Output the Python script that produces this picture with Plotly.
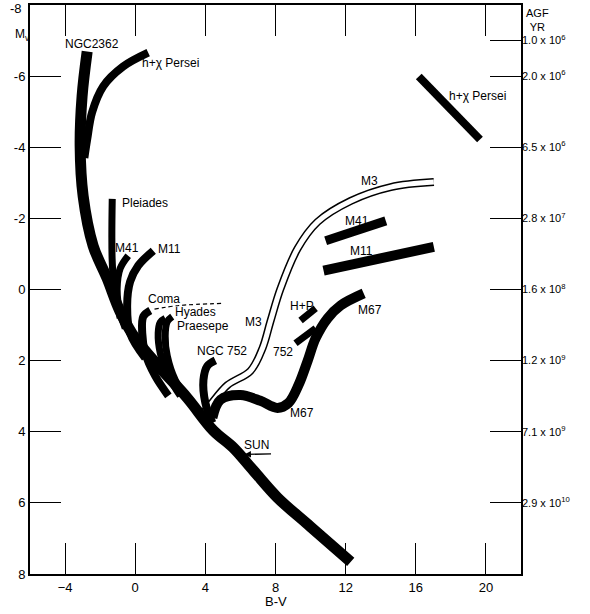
import plotly.graph_objects as go

# cluster sequences: B-V (x) and Mv (y)
ngc2362_bv = [-2.74, -3.03, -3.14, -2.97, -2.4, -1.6, -0.86, 0.0, 1.43, 2.97, 4.46, 5.6, 6.74, 8.11, 9.83, 11.31, 12.29]
ngc2362_mv = [-6.69, -5.43, -4.03, -2.63, -1.23, -0.31, 0.62, 1.37, 2.21, 3.05, 3.97, 4.45, 5.09, 5.85, 6.6, 7.24, 7.66]

hchi_bv = [0.74, -0.69, -1.83, -2.46, -2.74, -2.9]
hchi_mv = [-6.66, -6.27, -5.71, -4.98, -4.22, -3.7]

pleiades_bv = [-1.31, -1.31, -1.14, -0.57]
pleiades_mv = [-2.55, -0.78, 0.17, 1.09]

m41_bv = [-0.4, -0.86, -1.03, -0.86]
m41_mv = [-0.95, -0.59, -0.03, 0.81]

m11_bv = [1.03, 0.17, -0.29, -0.46, -0.29, 0.57]
m11_mv = [-1.09, -0.67, -0.22, 0.45, 1.23, 1.93]

coma_bv = [0.86, 0.46, 0.4, 0.57, 1.14, 1.89]
coma_mv = [0.59, 0.76, 1.23, 1.79, 2.43, 2.99]

hyades_bv = [1.71, 1.43, 1.31, 1.43, 1.89, 2.57]
hyades_mv = [0.81, 0.92, 1.23, 1.79, 2.43, 2.99]

praesepe_bv = [2.11, 1.83, 1.71, 1.83, 2.29, 3.03]
praesepe_mv = [0.76, 0.9, 1.31, 1.87, 2.55, 3.1]

ngc752_bv = [4.57, 4.11, 3.89, 4.0, 4.4]
ngc752_mv = [1.99, 2.15, 2.55, 3.19, 3.75]

m3_bv = [3.89, 4.29, 5.26, 6.57, 7.26, 7.71, 8.29, 9.26, 10.4, 12.29, 14.57, 17.03]
m3_mv = [3.47, 3.24, 2.69, 2.29, 1.65, 0.9, -0.03, -1.15, -1.9, -2.49, -2.88, -3.02]

m67_bv = [4.4, 4.86, 6.0, 7.14, 8.11, 8.74, 9.31, 9.83, 10.29, 10.97, 11.71, 13.03]
m67_mv = [3.61, 3.1, 2.97, 3.13, 3.33, 3.19, 2.69, 2.01, 1.37, 0.81, 0.45, 0.11]

hp_giants_bv = [9.43, 10.29]
hp_giants_mv = [0.87, 0.53]
ngc752_giants_bv = [9.14, 10.29]
ngc752_giants_mv = [1.51, 1.09]
m41_giants_bv = [10.86, 14.29]
m41_giants_mv = [-1.37, -1.93]
m11_giants_bv = [10.74, 17.03]
m11_giants_mv = [-0.53, -1.2]
hchi_super_bv = [16.17, 19.66]
hchi_super_mv = [-5.99, -4.22]

coma_dash_bv = [1.1, 2.5, 4.97]
coma_dash_mv = [0.55, 0.45, 0.39]

# right hand age scale
age_mv = [-7, -6, -4, -2, 0, 2, 4, 6]
age_text = ["1.0 x 10<sup>6</sup>", "2.0 x 10<sup>6</sup>", "6.5 x 10<sup>6</sup>", "2.8 x 10<sup>7</sup>",
            "1.6 x 10<sup>8</sup>", "1.2 x 10<sup>9</sup>", "7.1 x 10<sup>9</sup>", "2.9 x 10<sup>10</sup>"]

bv_ticks = [-4, 0, 4, 8, 12, 16, 20]
mv_ticks = [-8, -6, -4, -2, 0, 2, 4, 6, 8]
# the -8 at the top corner is written separately so it is not cut by the page edge
mv_ticktext = ["", "-6", "-4", "-2", "0", "2", "4", "6", "8"]

font_name = "Liberation Sans"
size_label = 12

fig = go.Figure()


def band(x, y, width, color="black", dash="solid"):
    fig.add_trace(go.Scatter(x=x, y=y, mode="lines", hoverinfo="skip",
                             line=dict(color=color, width=width, shape="spline", dash=dash)))


# hollow M3 band first so the main sequence covers its foot
band(m3_bv, m3_mv, 8)
band(m3_bv, m3_mv, 5, color="white")

band(hchi_bv, hchi_mv, 8)
band(pleiades_bv, pleiades_mv, 7)
band(m41_bv, m41_mv, 7)
band(m11_bv, m11_mv, 8)
band(coma_bv, coma_mv, 8)
band(hyades_bv, hyades_mv, 7)
band(praesepe_bv, praesepe_mv, 7)
band(ngc752_bv, ngc752_mv, 8)
band(m67_bv, m67_mv, 10)
band(ngc2362_bv, ngc2362_mv, 11)

band(hp_giants_bv, hp_giants_mv, 7)
band(ngc752_giants_bv, ngc752_giants_mv, 7)
band(m41_giants_bv, m41_giants_mv, 9)
band(m11_giants_bv, m11_giants_mv, 10)
band(hchi_super_bv, hchi_super_mv, 8)
band(coma_dash_bv, coma_dash_mv, 1.2, dash="4px,3px")

# empty trace so the age axis is drawn
fig.add_trace(go.Scatter(x=[None], y=[None], yaxis="y2", showlegend=False, hoverinfo="skip"))

labels = [
    ("NGC2362", -2.46, -6.91), ("h+χ Persei", 2.0, -6.38), ("Pleiades", 0.57, -2.43),
    ("M41", -0.46, -1.17), ("M11", 1.94, -1.15), ("Coma", 1.66, 0.28), ("Hyades", 3.43, 0.62),
    ("Praesepe", 3.89, 1.03), ("NGC 752", 4.97, 1.73), ("M3", 6.74, 0.9), ("752", 8.4, 1.76),
    ("H+P", 9.49, 0.45), ("M67", 13.37, 0.59), ("M67", 9.49, 3.47), ("M3", 13.37, -3.05),
    ("M41", 12.63, -1.93), ("M11", 12.91, -1.09), ("h+χ Persei", 19.54, -5.43),
]
for text, x, y in labels:
    fig.add_annotation(x=x, y=y, text=text, showarrow=False, font=dict(size=size_label, color="black"))

# sun marker with arrow
fig.add_annotation(x=6.23, y=4.64, ax=7.83, ay=4.62, axref="x", ayref="y", text="",
                   showarrow=True, arrowhead=2, arrowsize=1, arrowwidth=1.3, arrowcolor="black")
fig.add_annotation(x=6.91, y=4.36, text="SUN", showarrow=False, font=dict(size=size_label, color="black"))

# axis captions
fig.add_annotation(xref="paper", yref="paper", x=-0.012, y=0.993, text="-8", showarrow=False,
                   xanchor="right", yanchor="middle", font=dict(size=13))
fig.add_annotation(xref="paper", yref="paper", x=-0.035, y=0.947, text="M<sub>v</sub>", showarrow=False,
                   yanchor="middle", font=dict(size=12))
fig.add_annotation(xref="paper", yref="paper", x=1.006, y=1.0, text="AGF<br>YR", showarrow=False,
                   xanchor="left", yanchor="top", align="center", font=dict(size=11))
fig.add_annotation(xref="paper", yref="paper", x=0.5, y=-0.049, text="B-V", showarrow=False,
                   yanchor="middle", font=dict(size=13))

fig.update_layout(
    width=590,
    height=614,
    margin=dict(l=30, r=69, t=5, b=40),
    plot_bgcolor="white",
    paper_bgcolor="white",
    showlegend=False,
    font=dict(family=font_name, color="black", size=size_label),
    xaxis=dict(range=[-6, 22], tickvals=bv_ticks, ticks="inside", ticklen=31, tickwidth=1.3,
               tickcolor="black", showline=True, linewidth=2, linecolor="black", mirror="ticks",
               showgrid=False, zeroline=False, tickfont=dict(size=13), automargin=False),
    yaxis=dict(range=[8, -8], tickvals=mv_ticks, ticktext=mv_ticktext, ticks="inside", ticklen=31,
               tickwidth=1.3, tickcolor="black", showline=True, linewidth=2, linecolor="black",
               mirror=True, showgrid=False, zeroline=False, tickfont=dict(size=13), automargin=False,
               ticklabeloverflow="allow"),
    yaxis2=dict(range=[8, -8], overlaying="y", side="right", tickvals=age_mv, ticktext=age_text,
                ticks="inside", ticklen=31, tickwidth=1.3, tickcolor="black", showline=False,
                showgrid=False, zeroline=False, tickfont=dict(size=11), automargin=False),
)

# the page body has a default 8px margin; drop it so the figure sits at the window corner
fig.write_html("out.html", config={"displayModeBar": False},
               post_script="document.body.style.margin = '0';")
